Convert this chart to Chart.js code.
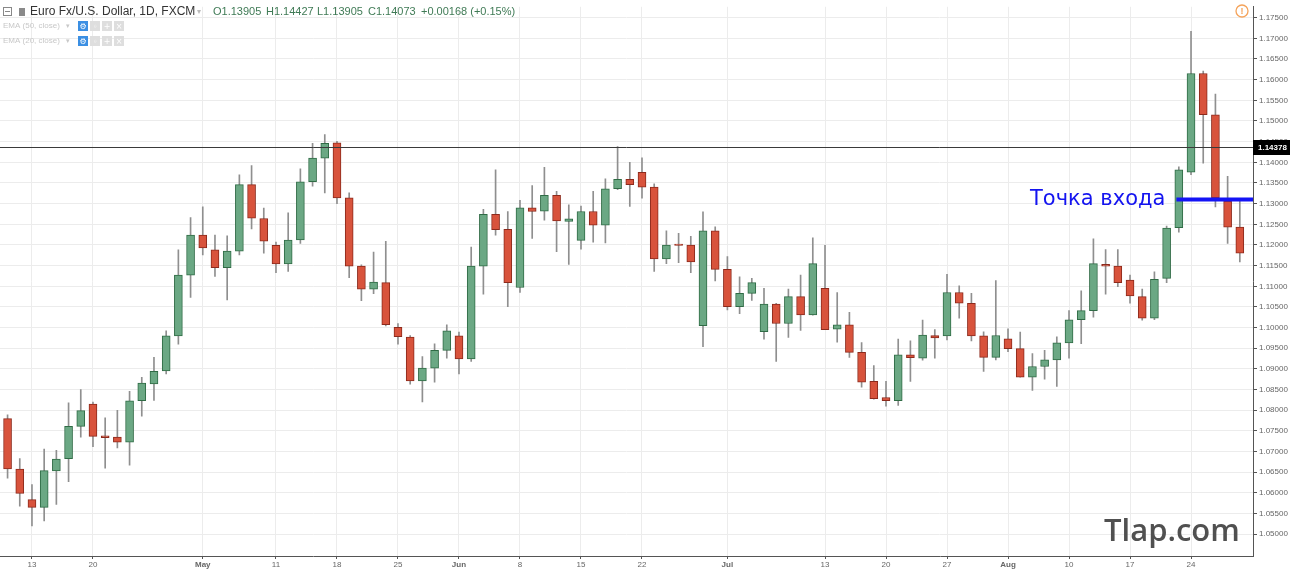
<!DOCTYPE html>
<html>
<head>
<meta charset="utf-8">
<script src="https://cdn.jsdelivr.net/npm/chart.js@4.4.1/dist/chart.umd.min.js"></script>
<style>
  html, body { margin: 0; padding: 0; background: #fff; }
  #wrap { width: 1290px; height: 574px; }
</style>
</head>
<body>
<div id="wrap"><canvas id="myChart"></canvas></div>
<script>
// EUR/USD daily, FXCM, 9 Apr - 28 Aug 2015
const dates = [
  '04-09','04-10',
  '04-13','04-14','04-15','04-16','04-17', '04-20','04-21','04-22','04-23','04-24',
  '04-27','04-28','04-29','04-30','05-01', '05-04','05-05','05-06','05-07','05-08',
  '05-11','05-12','05-13','05-14','05-15', '05-18','05-19','05-20','05-21','05-22',
  '05-25','05-26','05-27','05-28','05-29', '06-01','06-02','06-03','06-04','06-05',
  '06-08','06-09','06-10','06-11','06-12', '06-15','06-16','06-17','06-18','06-19',
  '06-22','06-23','06-24','06-25','06-26', '06-29','06-30','07-01','07-02','07-03',
  '07-06','07-07','07-08','07-09','07-10', '07-13','07-14','07-15','07-16','07-17',
  '07-20','07-21','07-22','07-23','07-24', '07-27','07-28','07-29','07-30','07-31',
  '08-03','08-04','08-05','08-06','08-07', '08-10','08-11','08-12','08-13','08-14',
  '08-17','08-18','08-19','08-20','08-21', '08-24','08-25','08-26','08-27','08-28'
];

const open = [
  1.0780, 1.0658,
  1.0584, 1.0565, 1.0653, 1.0683, 1.0761, 1.0815, 1.0738, 1.0735, 1.0723, 1.0823,
  1.0864, 1.0895, 1.0980, 1.1127, 1.1224, 1.1188, 1.1145, 1.1185, 1.1346, 1.1264,
  1.1199, 1.1154, 1.1212, 1.1353, 1.1410, 1.1447, 1.1314, 1.1149, 1.1093, 1.1109,
  1.1001, 1.0977, 1.0871, 1.0902, 1.0945, 1.0980, 1.0924, 1.1149, 1.1274, 1.1238,
  1.1097, 1.1290, 1.1282, 1.1320, 1.1257, 1.1211, 1.1281, 1.1248, 1.1336, 1.1359,
  1.1376, 1.1340, 1.1166, 1.1202, 1.1200, 1.1005, 1.1234, 1.1141, 1.1051, 1.1083,
  1.0990, 1.1057, 1.1010, 1.1075, 1.1031, 1.1095, 1.0996, 1.1007, 1.0940, 1.0870,
  1.0831, 1.0823, 1.0934, 1.0926, 1.0981, 1.0980, 1.1085, 1.1059, 1.0980, 1.0928,
  1.0973, 1.0949, 1.0880, 1.0906, 1.0922, 1.0963, 1.1019, 1.1041, 1.1153, 1.1149,
  1.1115, 1.1075, 1.1023, 1.1119, 1.1242, 1.1376, 1.1615, 1.1515, 1.1306, 1.1243
];
const high = [
  1.0789, 1.0683,
  1.0620, 1.0706, 1.0703, 1.0818, 1.0850, 1.0820, 1.0782, 1.0800, 1.0846, 1.0880,
  1.0928, 1.0992, 1.1188, 1.1266, 1.1292, 1.1224, 1.1222, 1.1370, 1.1392, 1.1289,
  1.1207, 1.1278, 1.1384, 1.1446, 1.1467, 1.1451, 1.1326, 1.1152, 1.1183, 1.1209,
  1.1010, 1.0981, 1.0930, 1.0961, 1.1007, 1.0989, 1.1195, 1.1286, 1.1382, 1.1281,
  1.1308, 1.1344, 1.1388, 1.1330, 1.1297, 1.1294, 1.1330, 1.1360, 1.1438, 1.1400,
  1.1411, 1.1348, 1.1234, 1.1228, 1.1221, 1.1280, 1.1244, 1.1172, 1.1123, 1.1119,
  1.1095, 1.1059, 1.1093, 1.1127, 1.1217, 1.1199, 1.1085, 1.1037, 1.0964, 1.0908,
  1.0870, 1.0972, 1.0968, 1.1018, 1.0995, 1.1129, 1.1101, 1.1083, 1.0990, 1.1114,
  1.0997, 1.0989, 1.0937, 1.0945, 1.0978, 1.1041, 1.1089, 1.1215, 1.1189, 1.1189,
  1.1127, 1.1093, 1.1135, 1.1246, 1.1389, 1.1717, 1.1621, 1.1565, 1.1366, 1.1306
];
const low = [
  1.0636, 1.0568,
  1.0520, 1.0532, 1.0572, 1.0627, 1.0735, 1.0712, 1.0660, 1.0709, 1.0667, 1.0786,
  1.0824, 1.0888, 1.0960, 1.1073, 1.1176, 1.1124, 1.1067, 1.1176, 1.1239, 1.1180,
  1.1133, 1.1136, 1.1204, 1.1342, 1.1326, 1.1300, 1.1121, 1.1065, 1.1082, 1.1004,
  1.0960, 1.0863, 1.0820, 1.0868, 1.0926, 1.0888, 1.0918, 1.1081, 1.1224, 1.1051,
  1.1085, 1.1216, 1.1260, 1.1184, 1.1153, 1.1190, 1.1207, 1.1205, 1.1334, 1.1293,
  1.1313, 1.1136, 1.1155, 1.1157, 1.1133, 1.0954, 1.1113, 1.1043, 1.1034, 1.1066,
  1.0972, 1.0918, 1.0976, 1.0993, 1.1030, 1.0995, 1.0965, 1.0928, 1.0856, 1.0827,
  1.0810, 1.0812, 1.0870, 1.0921, 1.0926, 1.0970, 1.1023, 1.0968, 1.0894, 1.0922,
  1.0942, 1.0880, 1.0848, 1.0875, 1.0858, 1.0926, 1.0961, 1.1025, 1.1081, 1.1099,
  1.1059, 1.1018, 1.1019, 1.1109, 1.1231, 1.1370, 1.1398, 1.1292, 1.1204, 1.1159
];
const close = [
  1.0658, 1.0599,
  1.0565, 1.0654, 1.0682, 1.0761, 1.0799, 1.0737, 1.0734, 1.0723, 1.0823, 1.0866,
  1.0894, 1.0980, 1.1127, 1.1224, 1.1193, 1.1145, 1.1185, 1.1346, 1.1265, 1.1209,
  1.1154, 1.1212, 1.1353, 1.1410, 1.1446, 1.1314, 1.1149, 1.1093, 1.1110, 1.1007,
  1.0978, 1.0871, 1.0902, 1.0945, 1.0992, 1.0924, 1.1149, 1.1274, 1.1237, 1.1109,
  1.1290, 1.1281, 1.1320, 1.1258, 1.1263, 1.1281, 1.1248, 1.1336, 1.1359, 1.1346,
  1.1340, 1.1166, 1.1200, 1.1199, 1.1159, 1.1234, 1.1141, 1.1051, 1.1083, 1.1109,
  1.1057, 1.1010, 1.1075, 1.1031, 1.1155, 1.0995, 1.1007, 1.0940, 1.0868, 1.0828,
  1.0823, 1.0934, 1.0927, 1.0982, 1.0975, 1.1085, 1.1059, 1.0980, 1.0928, 1.0981,
  1.0949, 1.0880, 1.0906, 1.0922, 1.0963, 1.1019, 1.1041, 1.1155, 1.1149, 1.1109,
  1.1077, 1.1023, 1.1117, 1.1241, 1.1382, 1.1615, 1.1515, 1.1314, 1.1243, 1.1180
];

const tickDates = ['04-13','04-20','05-01','05-11','05-18','05-25','06-01','06-08','06-15',
  '06-22','07-01','07-13','07-20','07-27','08-03','08-10','08-17','08-24'];
const tickText = ['13','20','May','11','18','25','Jun','8','15','22','Jul','13','20','27','Aug','10','17','24'];
const priceTicks = [1.050, 1.055, 1.060, 1.065, 1.070, 1.075, 1.080, 1.085, 1.090, 1.095,
  1.100, 1.105, 1.110, 1.115, 1.120, 1.125, 1.130, 1.135, 1.140, 1.145,
  1.150, 1.155, 1.160, 1.165, 1.170, 1.175];

const lastPrice = 1.14378;
const entryPrice = 1.1310;
const entryFrom = 95.8;

const UP_FILL = '#6ba884', UP_LINE = '#2f6b45';
const DN_FILL = '#d8533c', DN_LINE = '#8c2a1c';

const isUp = close.map((c, i) => c >= open[i]);
const tickIdx = tickDates.map(d => dates.indexOf(d));
const tickName = {};
tickIdx.forEach((v, k) => { tickName[v] = tickText[k]; });

Chart.defaults.font.family = "'Liberation Sans', Arial, sans-serif";

const overlay = {
  id: 'overlay',
  afterDatasetsDraw(chart) {
    const { ctx, chartArea: a, scales: { x, y } } = chart;
    ctx.save();
    // last price line
    const py = Math.round(y.getPixelForValue(lastPrice)) + 0.5;
    ctx.strokeStyle = '#3a3a3a';
    ctx.lineWidth = 1;
    ctx.beginPath(); ctx.moveTo(a.left, py); ctx.lineTo(a.right, py); ctx.stroke();

    // entry line + label
    const ey = y.getPixelForValue(entryPrice);
    const ex = x.getPixelForValue(entryFrom);
    ctx.strokeStyle = '#1414f5';
    ctx.lineWidth = 4;
    ctx.beginPath(); ctx.moveTo(ex, ey); ctx.lineTo(a.right, ey); ctx.stroke();
    ctx.fillStyle = '#1414f0';
    ctx.font = "21px 'DejaVu Sans'";
    ctx.textAlign = 'right';
    ctx.textBaseline = 'alphabetic';
    ctx.fillText('Точка входа', ex - 11, ey + 5);
    ctx.restore();
  },
  afterDraw(chart) {
    const { ctx, chartArea: a, scales: { y } } = chart;
    ctx.save();
    // price label on axis
    const py = Math.round(y.getPixelForValue(lastPrice));
    ctx.fillStyle = '#000';
    ctx.fillRect(a.right, py - 7, 1290 - a.right, 15);
    ctx.fillStyle = '#fff';
    ctx.font = "bold 8px 'Liberation Sans'";
    ctx.textAlign = 'left';
    ctx.textBaseline = 'middle';
    ctx.fillText(lastPrice.toFixed(5), a.right + 5, py + 0.5);

    // header
    ctx.strokeStyle = '#888';
    ctx.lineWidth = 1;
    ctx.strokeRect(3.5, 7.5, 8, 8);
    ctx.beginPath(); ctx.moveTo(5, 11.5); ctx.lineTo(10, 11.5); ctx.stroke();
    ctx.fillStyle = '#8a8a8a';
    ctx.fillRect(19, 8, 6, 8);
    ctx.font = "12px 'Liberation Sans'";
    ctx.fillStyle = '#333';
    ctx.fillText('Euro Fx/U.S. Dollar, 1D, FXCM', 30, 12);
    ctx.fillStyle = '#bbb';
    ctx.font = "8px 'DejaVu Sans'";
    ctx.fillText('▾', 197, 12);
    ctx.font = "11px 'Liberation Sans'";
    ctx.fillStyle = '#3f7a55';
    [['O1.13905', 213], ['H1.14427', 266], ['L1.13905', 317], ['C1.14073', 368],
     ['+0.00168 (+0.15%)', 421]].forEach(([t, px]) => ctx.fillText(t, px, 12));

    // EMA rows
    [['EMA (50, close)', 26], ['EMA (20, close)', 41]].forEach(([t, ry]) => {
      ctx.fillStyle = '#c8c8c8';
      ctx.font = "8px 'Liberation Sans'";
      ctx.fillText(t, 3, ry);
      ctx.font = "7px 'DejaVu Sans'";
      ctx.fillText('▾', 66, ry);
      [78, 90, 102, 114].forEach((bx, k) => {
        ctx.fillStyle = k === 0 ? '#3b8fe3' : '#dedede';
        ctx.fillRect(bx, ry - 5, 10, 10);
        ctx.fillStyle = '#fff';
        ctx.font = "8px 'DejaVu Sans'";
        ctx.textAlign = 'center';
        ctx.fillText(['⚙', '◦', '+', '×'][k], bx + 5, ry + 0.5);
        ctx.textAlign = 'left';
      });
    });

    // warning icon
    ctx.strokeStyle = '#f5a35a';
    ctx.lineWidth = 1.3;
    ctx.beginPath(); ctx.arc(1242, 11, 6, 0, Math.PI * 2); ctx.stroke();
    ctx.fillStyle = '#f5a35a';
    ctx.font = "bold 9px 'Liberation Sans'";
    ctx.textAlign = 'center';
    ctx.fillText('!', 1242, 11.5);

    // watermark
    ctx.fillStyle = '#505050';
    ctx.font = "600 31px 'Open Sans'";
    ctx.textAlign = 'left';
    ctx.textBaseline = 'alphabetic';
    ctx.fillText('Tlap.com', 1104, 541);
    ctx.restore();
  }
};

const ctx = document.getElementById('myChart');

new Chart(ctx, {
  type: 'bar',
  data: {
    datasets: [
      {
        label: 'wick',
        data: dates.map((d, i) => ({ x: i, y: [low[i], high[i]] })),
        backgroundColor: '#8f8f8f',
        borderWidth: 0,
        barThickness: 1,
        grouped: false,
        order: 2
      },
      {
        label: 'body',
        data: dates.map((d, i) => ({ x: i, y: [open[i], close[i]] })),
        backgroundColor: isUp.map(u => u ? UP_FILL : DN_FILL),
        borderColor: isUp.map(u => u ? UP_LINE : DN_LINE),
        borderWidth: 1,
        borderSkipped: false,
        barThickness: 8,
        grouped: false,
        order: 1
      }
    ]
  },
  options: {
    responsive: true,
    maintainAspectRatio: false,
    animation: false,
    layout: { padding: 0 },
    plugins: { legend: { display: false }, tooltip: { enabled: false } },
    scales: {
      x: {
        type: 'linear',
        min: -0.62,
        max: 102.08,
        offset: false,
        afterBuildTicks: axis => { axis.ticks = tickIdx.map(v => ({ value: v })); },
        afterFit: axis => { axis.height = 18; },
        grid: {
          offset: false,
          color: '#ececec',
          tickColor: '#555',
          tickLength: 3
        },
        border: { color: '#555' },
        ticks: {
          autoSkip: false,
          maxRotation: 0,
          padding: 1,
          color: '#666',
          font: c => ({ size: 8, weight: /[A-Za-z]/.test(tickName[c.tick && c.tick.value] || '') ? 'bold' : 'normal' }),
          callback: v => tickName[v] || ''
        }
      },
      y: {
        position: 'right',
        min: 1.04474,
        max: 1.17763,
        afterBuildTicks: axis => { axis.ticks = priceTicks.map(v => ({ value: v })); },
        afterFit: axis => { axis.width = 37; },
        grid: {
          color: '#ececec',
          tickColor: '#555',
          tickLength: 4
        },
        border: { color: '#555' },
        ticks: {
          padding: 2,
          color: '#666',
          font: { size: 8 },
          callback: v => v.toFixed(5)
        }
      }
    }
  },
  plugins: [overlay]
});
</script>
</body>
</html>
